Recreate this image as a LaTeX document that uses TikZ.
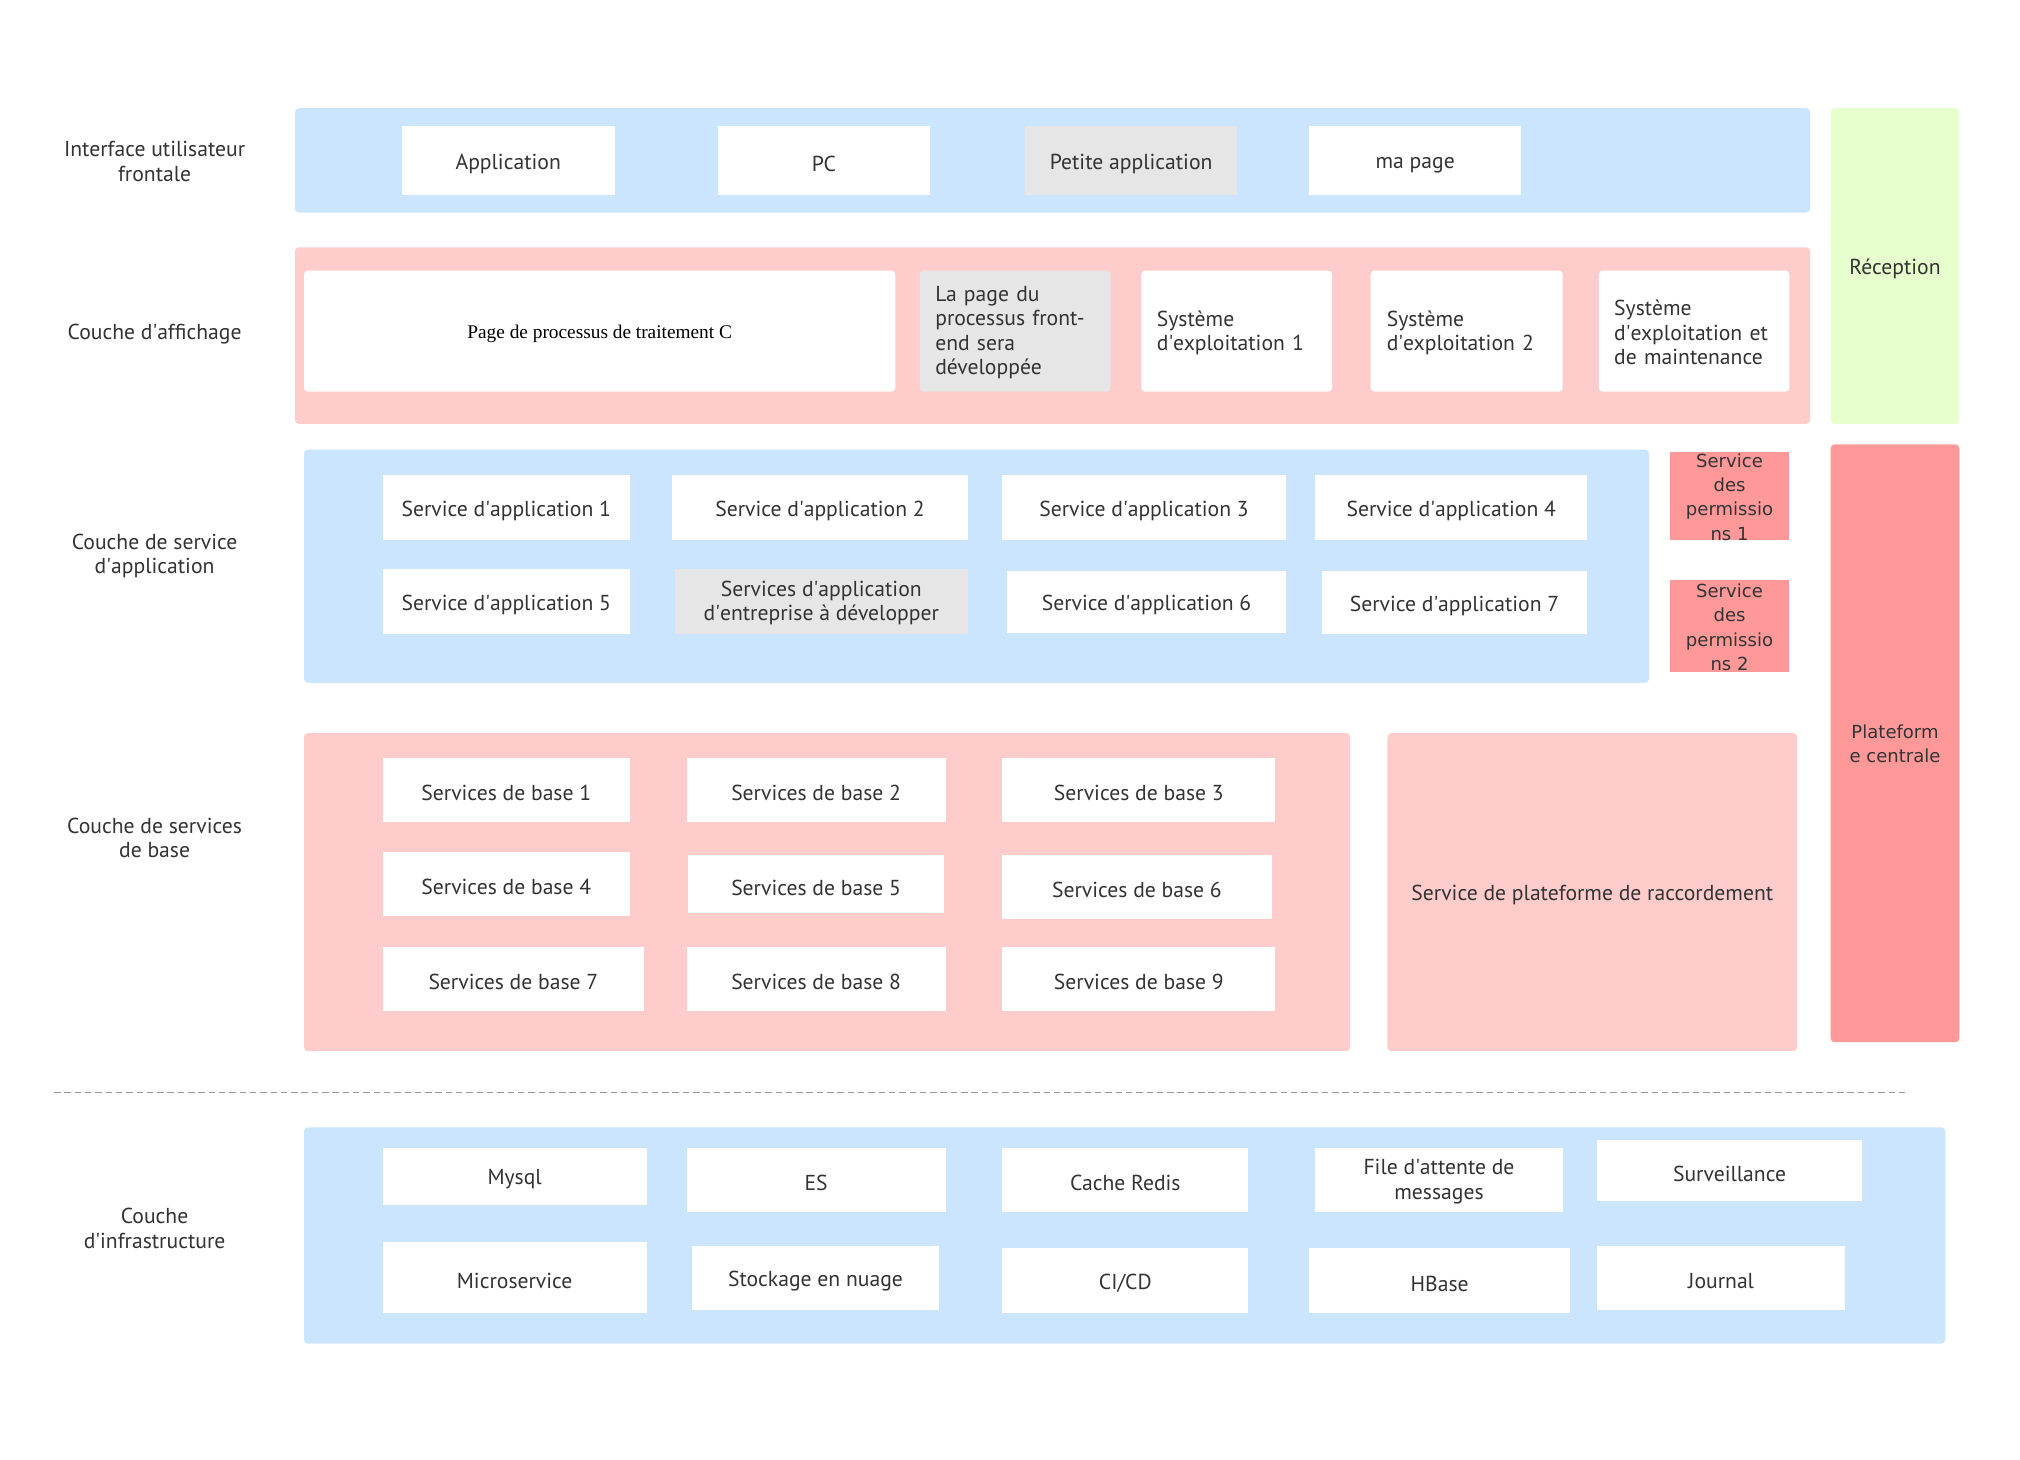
\documentclass[tikz,border=0pt]{standalone}
\usepackage{fontspec}
\setmainfont{PT Sans}
\newfontfamily\dvs{DejaVu Sans}
\newfontfamily\tms{Liberation Serif}
\newcommand\ap{\textquotesingle}
\definecolor{lblue}{HTML}{CCE5FF}
\definecolor{lpink}{HTML}{FFCCCC}
\definecolor{dpink}{HTML}{FF9999}
\definecolor{lgreen}{HTML}{E6FFCC}
\definecolor{lgray}{HTML}{E6E6E6}
\definecolor{txt}{HTML}{333333}
\tikzset{
  boxbase/.style={inner sep=0pt, outer sep=0pt, text=txt, font=\fontsize{16.8}{19}\selectfont, align=center},
  wbox/.style={boxbase, fill=white},
  gbox/.style={boxbase, fill=lgray},
  layer/.style={boxbase, rounded corners=3pt},
  lab/.style={text=txt, font=\fontsize{16.8}{19}\selectfont, align=center},
  dvbox/.style={fill=dpink, font=\dvs\fontsize{14}{19}\selectfont},
}
% #1 options, #2 name, #3 x1, #4 y1, #5 x2, #6 y2, #7 text, text shift
\newcommand\bxs[8][]{\node[wbox,#1,minimum width={(#5-#3)*1pt},minimum height={(#6-#4)*1pt},text opacity=0] (#2) at ({(#3+#5)/2},{(#4+#6)/2}) {};
  \node[wbox,#1,fill=none,minimum width={(#5-#3)*1pt},minimum height=0pt] (#2-t) at ([yshift=-#8pt]#2.center) {#7};}
\newcommand\bx[7][]{\bxs[#1]{#2}{#3}{#4}{#5}{#6}{#7}{2.5}}
\newcommand\bxm[7][]{\bxs[#1]{#2}{#3}{#4}{#5}{#6}{#7}{1.2}}
\begin{document}
\begin{tikzpicture}[x=1pt,y=-1pt]
\useasboundingbox[fill=white] (0,0) rectangle (1568,1133);
% left labels
\node[lab] (l1) at (120,125.5) {Interface utilisateur\\frontale};
\node[lab] (l2) at (120,259.5) {Couche d\ap affichage};
\node[lab] (l3) at (120,431.5) {Couche de service\\d\ap application};
\node[lab] (l4) at (120,650.5) {Couche de services\\de base};
\node[lab] (l5) at (120,953.5) {Couche\\d\ap infrastructure};
% layer 1
\bx[layer,fill=lblue]{L1}{229}{84}{1405}{165}{}
\bx{a1}{312}{98}{477}{151}{Application}
\bx{a2}{557}{98}{722}{151}{PC}
\bx[gbox]{a3}{796}{98}{960}{151}{Petite application}
\bxs{a4}{1016}{98}{1181}{151}{ma page}{3.5}
% layer 2
\bx[layer,fill=lpink]{L2}{229}{192}{1405}{329}{}
\bx[rounded corners=3pt,font=\tms\fontsize{15}{18}\selectfont,text=black]{b1}{236}{210}{695}{304}{Page de processus de traitement C}
\bxm[gbox,rounded corners=3pt,align=left,text width=124pt]{b2}{714}{210}{862}{304}{La page du\\processus front-\\end sera\\développée}
\bxm[rounded corners=3pt,align=left,text width=124pt]{b3}{886}{210}{1034}{304}{Système\\d\ap exploitation 1}
\bxm[rounded corners=3pt,align=left,text width=124pt]{b4}{1064}{210}{1213}{304}{Système\\d\ap exploitation 2}
\bxm[rounded corners=3pt,align=left,text width=124pt]{b5}{1241}{210}{1389}{304}{Système\\d\ap exploitation et\\de maintenance}
% reception
\bx[layer,fill=lgreen]{rec}{1421}{84}{1521}{329}{}
\node[lab] (rect) at (1471,209) {Réception};
% layer 3
\bx[layer,fill=lblue]{L3}{236}{349}{1280}{530}{}
\bx{c1}{297}{369}{489}{419}{Service d\ap application 1}
\bx{c2}{522}{369}{751}{419}{Service d\ap application 2}
\bx{c3}{778}{369}{998}{419}{Service d\ap application 3}
\bx{c4}{1021}{369}{1232}{419}{Service d\ap application 4}
\bx{c5}{297}{442}{489}{492}{Service d\ap application 5}
\bxm[gbox]{c6}{524}{442}{751}{492}{Services d\ap application\\d\ap entreprise à développer}
\bx{c7}{782}{443}{998}{491}{Service d\ap application 6}
\bx{c8}{1026}{443}{1232}{492}{Service d\ap application 7}
% permissions
\bxs[dvbox]{p1}{1296}{351}{1389}{419}{Service\\des\\permissio\\ns 1}{0.8}
\bxs[dvbox]{p2}{1296}{450}{1389}{522}{Service\\des\\permissio\\ns 2}{0.8}
% plateforme centrale
\bxs[layer,dvbox]{pc}{1421}{345}{1521}{809}{Plateform\\e centrale}{0.5}
% layer 4
\bx[layer,fill=lpink]{L4}{236}{569}{1048}{816}{}
\bx{d1}{297}{588}{489}{638}{Services de base 1}
\bx{d2}{533}{588}{734}{638}{Services de base 2}
\bx{d3}{778}{588}{990}{638}{Services de base 3}
\bx{d4}{297}{661}{489}{711}{Services de base 4}
\bx{d5}{534}{664}{733}{709}{Services de base 5}
\bx{d6}{778}{664}{987}{713}{Services de base 6}
\bx{d7}{297}{735}{500}{785}{Services de base 7}
\bx{d8}{533}{735}{734}{785}{Services de base 8}
\bx{d9}{778}{735}{990}{785}{Services de base 9}
\bx[layer,fill=lpink]{spr}{1077}{569}{1395}{816}{Service de plateforme de raccordement}
% dashed separator
\coordinate (s1) at (42,848);
\coordinate (s2) at (1482,848);
\draw[draw=gray!80, line width=0.8pt, dash pattern=on 5pt off 3pt] (s1) -- (s2);
% layer 5
\bx[layer,fill=lblue]{L5}{236}{875}{1510}{1043}{}
\bx{e1}{297}{891}{502}{935}{Mysql}
\bx{e2}{533}{891}{734}{941}{ES}
\bx{e3}{778}{891}{969}{941}{Cache Redis}
\bxm{e4}{1021}{891}{1213}{941}{File d\ap attente de\\messages}
\bx{e5}{1240}{885}{1445}{932}{Surveillance}
\bx{e6}{297}{964}{502}{1019}{Microservice}
\bx{e7}{537}{967}{729}{1017}{Stockage en nuage}
\bx{e8}{778}{969}{969}{1019}{CI/CD}
\bx{e9}{1016}{969}{1219}{1019}{HBase}
\bx{e10}{1240}{967}{1432}{1017}{Journal}
\end{tikzpicture}
\end{document}
